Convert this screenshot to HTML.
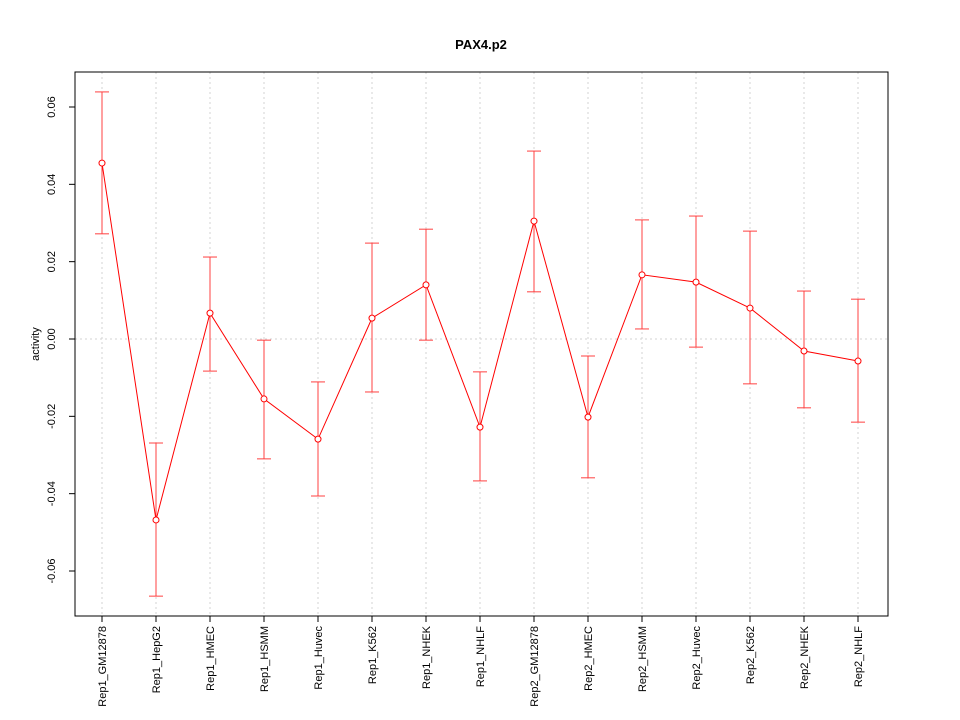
<!DOCTYPE html>
<html><head><meta charset="utf-8"><style>body{margin:0;background:#fff}svg{display:block;font-family:"Liberation Sans",sans-serif}</style></head>
<body>
<svg id="chart" width="960" height="720"></svg>
<script>
const categories=["Rep1_GM12878","Rep1_HepG2","Rep1_HMEC","Rep1_HSMM","Rep1_Huvec","Rep1_K562","Rep1_NHEK","Rep1_NHLF","Rep2_GM12878","Rep2_HMEC","Rep2_HSMM","Rep2_Huvec","Rep2_K562","Rep2_NHEK","Rep2_NHLF"];
const values=[0.0455,-0.0468,0.0067,-0.0155,-0.0259,0.0054,0.014,-0.0228,0.0305,-0.0202,0.0166,0.0147,0.008,-0.0031,-0.0057];
const upper=[0.0639,-0.0269,0.0212,-0.0003,-0.0111,0.0248,0.0284,-0.0085,0.0486,-0.0044,0.0308,0.0318,0.0279,0.0124,0.0103];
const lower=[0.0272,-0.0665,-0.0083,-0.031,-0.0406,-0.0137,-0.0003,-0.0367,0.0122,-0.0359,0.0026,-0.0021,-0.0116,-0.0178,-0.0215];
const yTicks=[-0.06,-0.04,-0.02,0.00,0.02,0.04,0.06];
const yTickLabels=["-0.06","-0.04","-0.02","0.00","0.02","0.04","0.06"];
const svg=document.getElementById('chart');
const NS='http://www.w3.org/2000/svg';
const L=75,R=888,T=72,B=616;
function y(v){return 339-v*3866.7;}
function x(i){return 102+i*54;}
function mk(t,a,name){const e=document.createElementNS(NS,t);for(const k in a)e.setAttribute(k,a[k]);


svg.appendChild(e);return e;}
// grid
categories.forEach((c,i)=>{mk('line',{x1:x(i),x2:x(i),y1:T,y2:B,stroke:'#d3d3d3','stroke-dasharray':'2,3'},'x-gridline');});
mk('line',{x1:L,x2:R,y1:y(0),y2:y(0),stroke:'#d3d3d3','stroke-dasharray':'2,3'},'zero-gridline');
mk('rect',{x:L,y:T,width:R-L,height:B-T,fill:'none',stroke:'#000'},'plot-frame');
const title=mk('text',{x:481,y:49,'text-anchor':'middle','font-size':13,'font-weight':'bold'},'chart-title');title.textContent='PAX4.p2';
const yt=mk('text',{x:39,y:344,'text-anchor':'middle','font-size':11,transform:'rotate(-90 39 344)'},'y-axis-title');yt.textContent='activity';
yTicks.forEach((v,i)=>{mk('line',{x1:L,x2:L-6,y1:y(v),y2:y(v),stroke:'#000'},'y-tick');
const t=mk('text',{x:55,y:y(v),'text-anchor':'middle','font-size':11,transform:`rotate(-90 55 ${y(v)})`},'y-tick-label');t.textContent=yTickLabels[i];});
categories.forEach((c,i)=>{mk('line',{x1:x(i),x2:x(i),y1:B,y2:B+6,stroke:'#000'},'x-tick');
const t=mk('text',{x:x(i)+4,y:626,'text-anchor':'end','font-size':11,transform:`rotate(-90 ${x(i)+4} 626)`},'x-tick-label');t.textContent=c;});
categories.forEach((c,i)=>{mk('line',{x1:x(i),x2:x(i),y1:y(upper[i]),y2:y(lower[i]),stroke:'#ff4040'},'error-bar');
mk('line',{x1:x(i)-7,x2:x(i)+7,y1:y(upper[i]),y2:y(upper[i]),stroke:'#ff4040'},'error-cap-upper');
mk('line',{x1:x(i)-7,x2:x(i)+7,y1:y(lower[i]),y2:y(lower[i]),stroke:'#ff4040'},'error-cap-lower');});
mk('polyline',{points:values.map((v,i)=>x(i)+','+y(v)).join(' '),fill:'none',stroke:'#ff0000'},'activity-line');
values.forEach((v,i)=>{mk('circle',{cx:x(i),cy:y(v),r:3,fill:'#fff',stroke:'#ff0000'},'activity-point');});
</script>
</body></html>
